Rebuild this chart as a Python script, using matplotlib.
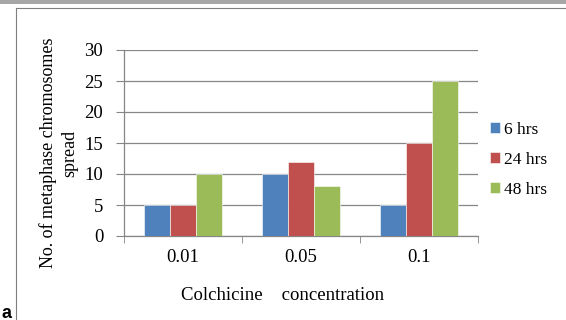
import matplotlib
matplotlib.use("Agg")
import matplotlib.pyplot as plt
import numpy as np
from matplotlib.lines import Line2D
from matplotlib.patches import Rectangle

categories = ["0.01", "0.05", "0.1"]
series_names = ["6 hrs", "24 hrs", "48 hrs"]
vals_6 = [5, 10, 5]
vals_24 = [5, 12, 15]
vals_48 = [10, 8, 25]
colors = ["#4F81BD", "#C0504D", "#9BBB59"]
yticks = [0, 5, 10, 15, 20, 25, 30]

plt.rcParams['font.family'] = ['Liberation Serif', 'DejaVu Serif']

W, H = 566, 320
fig = plt.figure(figsize=(W / 100, H / 100), dpi=100)

# frame decorations
fig.add_artist(Rectangle((0, (H - 4) / H), 1, 4 / H, transform=fig.transFigure,
                         facecolor="#A6A6A6", edgecolor="none"))
fig.add_artist(Line2D([16 / W, 16 / W], [0, (H - 8) / H], transform=fig.transFigure,
                      color="#7F7F7F", lw=0.8))
fig.add_artist(Line2D([16 / W, 1], [(H - 8) / H, (H - 8) / H], transform=fig.transFigure,
                      color="#7F7F7F", lw=0.8))
fig.text(2 / W, 1 - 313 / H, "a", fontsize=13, fontweight="bold",
         family=["Liberation Sans", "DejaVu Sans"], va="center", ha="left")

left, right, top, bottom = 124, 478, 50, 236
ax = fig.add_axes([left / W, 1 - bottom / H, (right - left) / W, (bottom - top) / H])

x = np.arange(len(categories))
bw = 0.22
for i, (vals, name) in enumerate(zip([vals_6, vals_24, vals_48], series_names)):
    ax.bar(x + (i - 1) * bw, vals, bw, color=colors[i], label=name,
           edgecolor="white", linewidth=0.4, zorder=3)

ax.set_xlim(-0.5, len(categories) - 0.5)
ax.set_ylim(0, 30)
ax.set_yticks(yticks)
ax.set_yticklabels([str(t) for t in yticks], fontsize=13.5)
ax.set_xticks(x)
ax.set_xticklabels(categories, fontsize=13.5)
ax.set_xticks(np.arange(len(categories) + 1) - 0.5, minor=True)
ax.tick_params(axis="x", which="major", length=0, pad=9)
ax.tick_params(axis="x", which="minor", length=5, color="#868686", direction="out")
ax.tick_params(axis="y", length=6, color="#868686", direction="out", pad=9)
ax.yaxis.grid(True, color="#868686", lw=0.9, zorder=0)
for s in ["top", "right"]:
    ax.spines[s].set_visible(False)
for s in ["left", "bottom"]:
    ax.spines[s].set_color("#868686")
    ax.spines[s].set_linewidth(0.9)

ax.set_xlabel("Colchicine    concentration", fontsize=13.5)
ax.xaxis.set_label_coords((283 - left) / (right - left), -(295 - bottom) / (bottom - top),
                          transform=ax.transAxes)
ax.xaxis.label.set_va("center")
ax.set_ylabel("No. of metaphase chromosomes\nspread", fontsize=13, linespacing=1.33)
ax.yaxis.set_label_coords(-(left - 59) / (right - left), (bottom - 153) / (bottom - top),
                          transform=ax.transAxes)
ax.yaxis.label.set_va("center")

leg = ax.legend(loc="center left", bbox_to_anchor=(1.0, 0.41), frameon=False,
                fontsize=12.5, handlelength=0.55, handleheight=0.55, handletextpad=0.25,
                labelspacing=0.8, borderaxespad=0.3)

fig.savefig("out.png", dpi=100)
